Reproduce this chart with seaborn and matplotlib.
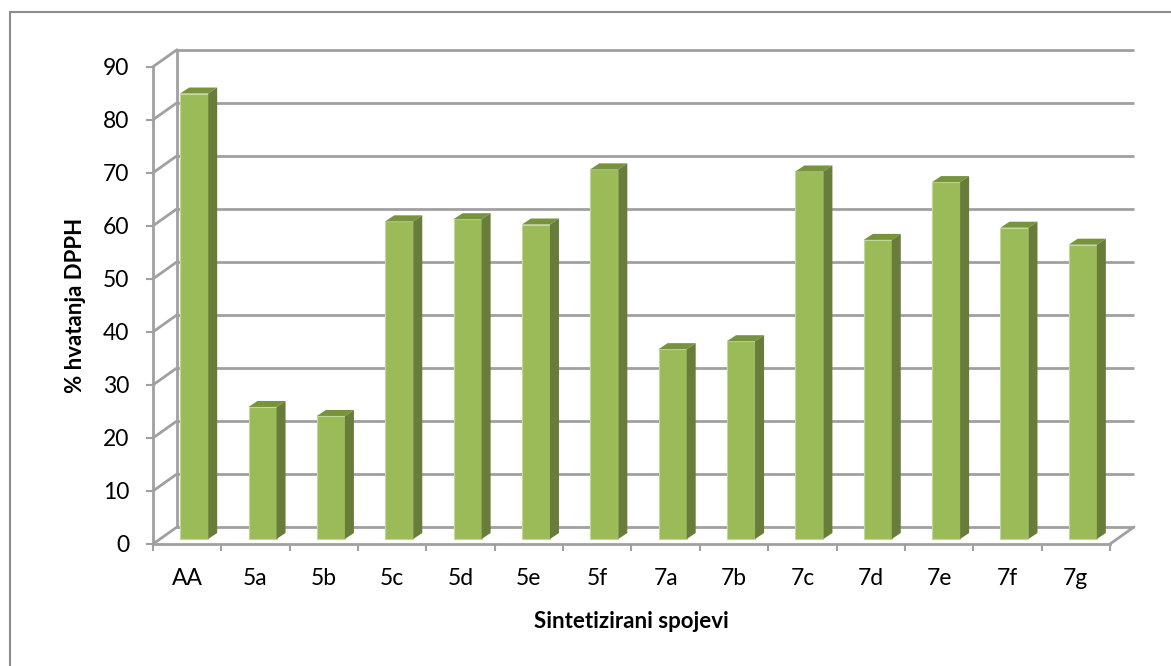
import numpy as np
import pandas as pd
import seaborn as sns
import matplotlib.pyplot as plt
from matplotlib.patches import Polygon
from matplotlib.lines import Line2D

# data
spojevi = ['AA', '5a', '5b', '5c', '5d', '5e', '5f', '7a', '7b', '7c', '7d', '7e', '7f', '7g']
hvatanje = [84.0, 24.9, 23.2, 59.9, 60.3, 59.3, 69.7, 35.8, 37.3, 69.3, 56.4, 67.3, 58.7, 55.5]
y_ticks = [0, 10, 20, 30, 40, 50, 60, 70, 80, 90]

df = pd.DataFrame({'spoj': spojevi, 'hvatanje': hvatanje})

sns.set_theme(style='white')
plt.rcParams['font.family'] = ['Lato', 'DejaVu Sans']

front = '#9BBB59'
top_c = '#77933C'
side_c = '#687D3A'
grid_c = '#A0A0A0'

DPI = 100
fig = plt.figure(figsize=(11.71, 6.66), dpi=DPI)
W, H = 1171, 666
# axes = front plane of the 3d box
x0px, x1px, y0px, y1px = 153, 1110, 544, 66.7
ax = fig.add_axes([x0px / W, (H - y0px) / H, (x1px - x0px) / W, (y0px - y1px) / H])

ncat = len(spojevi)
px_x = (x1px - x0px) / ncat        # pixels per category
px_y = (y0px - y1px) / 90.0        # pixels per % unit

# depth offsets (pixels)
wall_dx, wall_dy = 24, 17
bar_dx, bar_dy = 7, 5
depth_dx, depth_dy = 9, 6

sns.barplot(data=df, x='spoj', y='hvatanje', color=front, width=0.41,
            saturation=1, edgecolor='#C4D79B', linewidth=0.8, ax=ax, zorder=3)

ax.set_xlim(-0.5, ncat - 0.5)
ax.set_ylim(0, 90)

# back wall gridlines + left wall diagonals
wdx = wall_dx / px_x
wdy = wall_dy / px_y
for t in y_ticks:
    ax.plot([-0.5 + wdx, ncat - 0.5 + wdx], [t + wdy, t + wdy], color=grid_c, lw=2,
            clip_on=False, zorder=1, solid_capstyle='butt')
    ax.plot([-0.5, -0.5 + wdx], [t, t + wdy], color=grid_c, lw=2, clip_on=False, zorder=1)
# floor right edge
ax.plot([ncat - 0.5, ncat - 0.5 + wdx], [0, wdy], color=grid_c, lw=2, clip_on=False, zorder=1)
# back wall left edge
ax.plot([-0.5 + wdx, -0.5 + wdx], [wdy, 90 + wdy], color=grid_c, lw=2, clip_on=False, zorder=1)

# give the bars their 3d faces
bdx = bar_dx / px_x
bdy = bar_dy / px_y
ddx = depth_dx / px_x
ddy = depth_dy / px_y
for p in ax.patches:
    bx = p.get_x() + bdx
    bw = p.get_width()
    bh = p.get_height()
    p.set_x(bx)
    p.set_y(bdy)
    top = bh + bdy
    ax.add_patch(Polygon([(bx, top), (bx + bw, top), (bx + bw + ddx, top + ddy), (bx + ddx, top + ddy)],
                         closed=True, facecolor=top_c, edgecolor='none', zorder=3, clip_on=False))
    ax.add_patch(Polygon([(bx + bw, bdy), (bx + bw + ddx, bdy + ddy), (bx + bw + ddx, top + ddy), (bx + bw, top)],
                         closed=True, facecolor=side_c, edgecolor='none', zorder=3, clip_on=False))

# spines / ticks
for s in ['top', 'right']:
    ax.spines[s].set_visible(False)
for s in ['left', 'bottom']:
    ax.spines[s].set_color(grid_c)
    ax.spines[s].set_linewidth(2)
    ax.spines[s].set_zorder(1)

ax.set_yticks(y_ticks)
ax.set_xticks(range(ncat))
ax.set_xticklabels(spojevi)
ax.set_xticks(np.arange(-0.5, ncat, 1.0), minor=True)
ax.tick_params(axis='y', which='major', length=5, width=1.5, color=grid_c, pad=12,
               labelsize=16.5, labelcolor='black', left=True)
ax.tick_params(axis='x', which='major', length=0, pad=17, labelsize=16.5, labelcolor='black')
ax.tick_params(axis='x', which='minor', length=5, width=1.5, color=grid_c, bottom=True)
ax.grid(False)

ax.set_xlabel('Sintetizirani spojevi', fontsize=16, fontweight='bold', color='black')
ax.set_ylabel('% hvatanja DPPH', fontsize=16, fontweight='bold', color='black')
ax.xaxis.set_label_coords(0.5, -(621 - y0px) / (y0px - y1px), transform=ax.transAxes)
ax.yaxis.set_label_coords(-(x0px - 75) / (x1px - x0px), 0.5, transform=ax.transAxes)
ax.xaxis.label.set_va('center')
ax.yaxis.label.set_va('center')

# chart border (only top and left edges visible in the crop)
fig.add_artist(Line2D([10 / W, 10 / W], [0, 1 - 12 / H], color='#8C8C8C', lw=1.5, transform=fig.transFigure))
fig.add_artist(Line2D([10 / W, 1], [1 - 12 / H, 1 - 12 / H], color='#8C8C8C', lw=1.5, transform=fig.transFigure))

fig.savefig('out.png', dpi=DPI)
